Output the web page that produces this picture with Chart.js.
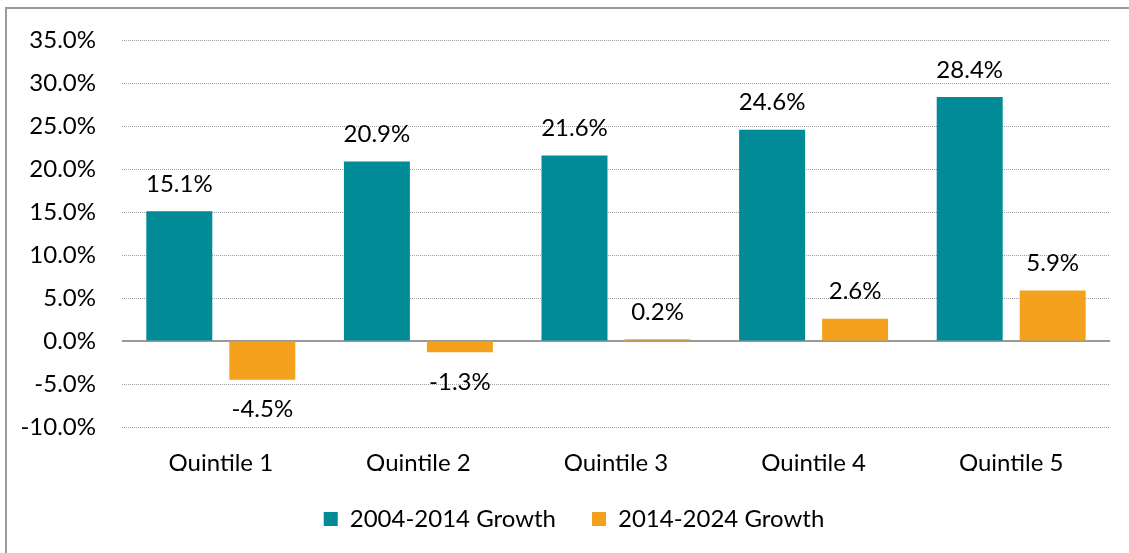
<!DOCTYPE html>
<html>
<head>
<meta charset="utf-8">
<script src="https://cdn.jsdelivr.net/npm/chart.js@4/dist/chart.umd.min.js"></script>
<style>
  html, body { margin:0; padding:0; background:#fff; }
  #wrap { position:relative; width:1129px; height:553px; overflow:hidden; }
  #frame { position:absolute; left:5px; top:7px; width:1200px; height:600px; border:2px solid #9a9a9a; box-sizing:border-box; }
  #c { position:absolute; left:0; top:0; }
</style>
</head>
<body>
<div id="wrap">
  <div id="frame"></div>
  <canvas id="c" width="1129" height="553"></canvas>
</div>
<script>
// ---- data ----
const categories = ["Quintile 1", "Quintile 2", "Quintile 3", "Quintile 4", "Quintile 5"];
const growth0414 = [15.1, 20.9, 21.6, 24.6, 28.4];
const growth1424 = [-4.5, -1.3, 0.2, 2.6, 5.9];
const seriesNames = ["2004-2014 Growth", "2014-2024 Growth"];
const yMin = -10, yMax = 35, yStep = 5;

const TEAL = "#008b96";
const ORANGE = "#f4a21e";
const FONT = "Lato, 'Open Sans', sans-serif";
const FSIZE = 24;

// zero line (solid) drawn over the dotted grid
const zeroLine = {
  id: "zeroLine",
  beforeDatasetsDraw(chart){
    const y = chart.scales.y.getPixelForValue(0);
    const { left, right } = chart.chartArea;
    const ctx = chart.ctx;
    ctx.save();
    ctx.strokeStyle = "#999";
    ctx.lineWidth = 2;
    ctx.beginPath();
    ctx.moveTo(left, y);
    ctx.lineTo(right, y);
    ctx.stroke();
    ctx.restore();
  }
};

// nudge legend a bit right (centred under plot like the original)
const legendShift = {
  id: "legendShift",
  afterLayout(chart){
    if (!chart.legend) return;
    chart.legend.left += 19;
    chart.legend.right += 19;
  }
};

// value labels outside bar ends
const valueLabels = {
  id: "valueLabels",
  afterDatasetsDraw(chart){
    const ctx = chart.ctx;
    ctx.save();
    ctx.font = FSIZE + "px " + FONT;
    ctx.fillStyle = "#000";
    ctx.textAlign = "center";
    ctx.textBaseline = "middle";
    chart.data.datasets.forEach((ds, i) => {
      chart.getDatasetMeta(i).data.forEach((bar, j) => {
        const v = ds.data[j];
        const y = v >= 0 ? bar.y - 27 : bar.y + 30;
        ctx.fillText(v.toFixed(1) + "%", bar.x, y);
      });
    });
    ctx.restore();
  }
};

new Chart(document.getElementById("c"), {
  type: "bar",
  data: {
    labels: categories,
    datasets: [
      { label: seriesNames[0], data: growth0414, backgroundColor: TEAL },
      { label: seriesNames[1], data: growth1424, backgroundColor: ORANGE }
    ]
  },
  options: {
    responsive: false,
    animation: false,
    devicePixelRatio: 1,
    datasets: { bar: { categoryPercentage: 0.84, barPercentage: 0.795 } },
    layout: { padding: { top: 35, right: 19, bottom: 12, left: 0 } },
    plugins: {
      tooltip: { enabled: false },
      legend: {
        position: "bottom",
        labels: {
          color: "#000",
          font: { family: FONT, size: FSIZE },
          boxWidth: 14,
          boxHeight: 14,
          padding: 36
        }
      }
    },
    scales: {
      x: {
        grid: { display: false, drawTicks: false },
        border: { display: false },
        ticks: { color: "#000", font: { family: FONT, size: FSIZE }, padding: 22 },
        afterFit(s){ s.height = 44; }
      },
      y: {
        min: yMin, max: yMax,
        grid: { color: "#a0a0a0", lineWidth: 1, drawTicks: false },
        border: { display: false, dash: [1, 1] },
        ticks: {
          stepSize: yStep,
          color: "#000",
          font: { family: FONT, size: FSIZE },
          padding: 26,
          callback: v => v.toFixed(1) + "%"
        },
        afterFit(s){ s.width = 122; }
      }
    }
  },
  plugins: [zeroLine, legendShift, valueLabels]
});
</script>
</body>
</html>
